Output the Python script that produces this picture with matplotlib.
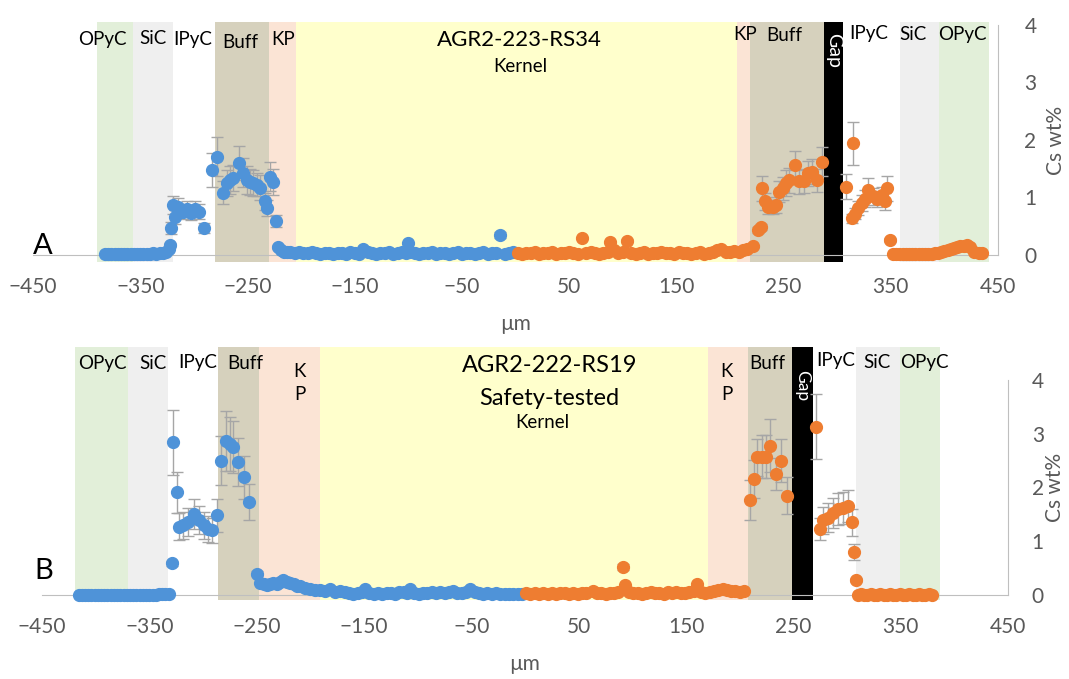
import matplotlib
matplotlib.use("Agg")
import matplotlib.pyplot as plt

plt.rcParams['font.family'] = ['Lato', 'DejaVu Sans']

# ---------------- panel A : AGR2-223-RS34 ----------------
a_layers = ["OPyC", "SiC", "IPyC", "Buff", "KP", "Kernel", "KP", "Buff", "Gap", "IPyC", "SiC", "OPyC"]
a_edges = [-390, -357, -319, -280, -230, -205, 207, 219, 288, 305, 359, 395, 442]

a_label_text = ["OPyC", "SiC", "IPyC", "Buff", "KP", "KP", "Buff", "IPyC", "SiC", "OPyC"]
a_label_x = [-385, -338, -301, -257, -217, 214, 251, 329, 371, 417]
a_label_y = [3.74, 3.76, 3.74, 3.7, 3.74, 3.84, 3.82, 3.86, 3.84, 3.84]

# blue side (no visible error)
a_blue_base_x = [-383, -380, -377, -374, -371, -368, -365, -362, -359, -356, -353, -350, -347, -344,
                 -341, -338, -335, -332, -329, -326, -323,
                 -219, -216, -213, -210, -206, -202, -198, -194, -190, -186, -182, -178, -174, -170,
                 -166, -162, -158, -154, -150, -146, -142, -138, -134, -130, -126, -122, -118, -114,
                 -110, -106, -102, -100, -98, -94, -90, -86, -82, -78, -74, -70, -66, -62, -58, -54,
                 -50, -46, -42, -38, -34, -30, -26, -22, -18, -10, -6, -2]
a_blue_base_y = [0.02, 0.01, 0.02, 0.02, 0.01, 0.02, 0.01, 0.02, 0.02, 0.01, 0.02, 0.02, 0.01, 0.02,
                 0.02, 0.03, 0.02, 0.03, 0.04, 0.06, 0.1,
                 0.08, 0.06, 0.05, 0.06, 0.04, 0.05, 0.03, 0.04, 0.06, 0.03, 0.02, 0.04, 0.03, 0.02,
                 0.04, 0.03, 0.02, 0.05, 0.04, 0.02, 0.1, 0.05, 0.03, 0.02, 0.04, 0.03, 0.05, 0.02,
                 0.03, 0.06, 0.04, 0.2, 0.05, 0.03, 0.02, 0.04, 0.03, 0.06, 0.02, 0.03, 0.04, 0.02,
                 0.03, 0.05, 0.02, 0.03, 0.04, 0.02, 0.03, 0.05, 0.02, 0.03, 0.04, 0.02, 0.03, 0.05]
# blue side with error bars
a_blue_x = [-322.2, -321.6, -319.2, -317.6, -314.5, -310.4, -306.7, -302.9, -298.9, -294.9, -290.5,
            -283.4, -278.7, -273.1, -269.4, -266.3, -263.2, -257.6, -253.9, -250.8, -247.6, -244.5,
            -241.4, -238.3, -233.6, -232.1, -229.0, -226.0, -223.4, -221.2, -14.5]
a_blue_y = [0.17, 0.47, 0.87, 0.66, 0.84, 0.75, 0.8, 0.73, 0.8, 0.75, 0.47,
            1.48, 1.71, 1.08, 1.25, 1.3, 1.34, 1.6, 1.43, 1.3, 1.27, 1.25,
            1.22, 1.17, 0.93, 0.81, 1.36, 1.27, 0.59, 0.14, 0.35]
a_blue_err = [0.03, 0.1, 0.15, 0.12, 0.15, 0.13, 0.14, 0.12, 0.14, 0.13, 0.08,
              0.3, 0.34, 0.2, 0.22, 0.24, 0.22, 0.3, 0.25, 0.24, 0.22, 0.23,
              0.2, 0.22, 0.15, 0.14, 0.25, 0.22, 0.1, 0.03, 0.05]

# orange side (no visible error)
a_orng_base_x = [2, 6, 10, 14, 18, 22, 26, 30, 34, 38, 42, 46, 50, 54, 58, 66, 70, 74, 78, 82, 86, 92,
                 96, 100, 108, 112, 116, 120, 124, 128, 132, 136, 140, 144, 148, 152, 156, 160, 164,
                 168, 172, 176, 180, 184, 188, 192, 196, 200, 204, 208, 212, 216,
                 352, 355, 358, 361, 364, 367, 370, 373, 376, 379, 382, 385, 388, 391, 394, 397, 400,
                 403, 406, 409, 412, 415, 418, 421, 424, 428, 432, 435]
a_orng_base_y = [0.03, 0.02, 0.04, 0.03, 0.05, 0.02, 0.04, 0.03, 0.06, 0.02, 0.04, 0.03, 0.05, 0.03,
                 0.02, 0.04, 0.06, 0.03, 0.02, 0.04, 0.05, 0.08, 0.03, 0.05, 0.04, 0.02, 0.03, 0.05,
                 0.02, 0.04, 0.03, 0.06, 0.03, 0.04, 0.02, 0.05, 0.03, 0.04, 0.02, 0.03, 0.05, 0.02,
                 0.04, 0.05, 0.08, 0.1, 0.06, 0.05, 0.07, 0.06, 0.08, 0.1,
                 0.01, 0.01, 0.02, 0.01, 0.01, 0.02, 0.01, 0.01, 0.02, 0.01, 0.02, 0.01, 0.02, 0.03,
                 0.04, 0.06, 0.07, 0.08, 0.1, 0.12, 0.13, 0.15, 0.16, 0.17, 0.14, 0.06, 0.04, 0.03]
# orange side with error bars
a_orng_x = [62, 88, 104, 221.7, 226.4, 228.6, 229.5, 232.6, 235.7, 239.8, 242.9, 246.0, 249.1, 252.2,
            255.3, 260.6, 264.6, 269.0, 273.0, 276.2, 280.8, 285.5,
            308.2, 315.0, 313.5, 316.6, 319.7, 322.8, 325.9, 329.0, 333.0, 336.8, 341.4, 344.5,
            346.7, 349.2]
a_orng_y = [0.3, 0.22, 0.25, 0.15, 0.44, 0.49, 1.16, 0.93, 0.84, 0.84, 0.87, 1.1, 1.16, 1.25,
            1.3, 1.56, 1.28, 1.28, 1.42, 1.45, 1.3, 1.62,
            1.19, 1.94, 0.64, 0.72, 0.81, 0.9, 0.98, 1.13, 1.02, 0.98, 1.04, 0.93,
            1.16, 0.26]
a_orng_err = [0.02, 0.02, 0.02, 0.03, 0.05, 0.05, 0.22, 0.15, 0.12, 0.12, 0.14, 0.18, 0.2, 0.22,
              0.22, 0.25, 0.22, 0.2, 0.22, 0.22, 0.2, 0.25,
              0.22, 0.37, 0.08, 0.1, 0.12, 0.14, 0.15, 0.2, 0.15, 0.14, 0.15, 0.15,
              0.22, 0.04]

# ---------------- panel B : AGR2-222-RS19 ----------------
b_layers = ["OPyC", "SiC", "IPyC", "Buff", "KP", "Kernel", "KP", "Buff", "Gap", "IPyC", "SiC", "OPyC"]
b_edges = [-419, -370, -333, -286, -248, -191, 170, 208, 249, 268, 308, 349, 387]

b_label_text = ["OPyC", "SiC", "IPyC", "Buff", "K\nP", "K\nP", "Buff", "IPyC", "SiC", "OPyC"]
b_label_x = [-394, -347, -305, -261, -210, 188, 226, 289, 328, 372]
b_label_y = [4.3, 4.3, 4.33, 4.3, 3.95, 3.95, 4.3, 4.36, 4.33, 4.33]

b_blue_base_x = [-416, -413, -410, -407, -404, -401, -398, -395, -392, -389, -386, -383, -380, -377,
                 -374, -371, -368, -365, -362, -359, -356, -353, -350, -347, -344, -341, -338, -335,
                 -332,
                 -246.9, -243.5, -240.6, -237.5, -234.4, -231, -228, -225.1, -222, -218.9, -215,
                 -212, -209.6, -205, -200.3, -196, -191, -186, -181.6, -177, -172.3, -168, -164,
                 -160, -156, -152, -149, -145, -141, -137, -133, -129, -125, -121, -117, -113, -110,
                 -107, -103, -99, -95, -91, -87, -83, -79, -75, -71, -67, -63, -59, -55, -51, -47,
                 -43, -39, -35, -31, -27, -23, -19, -15, -11, -7, -3]
b_blue_base_y = [0.0, 0.0, 0.0, 0.0, 0.0, 0.0, 0.0, 0.0, 0.0, 0.0, 0.0, 0.0, 0.0, 0.0,
                 0.0, 0.0, 0.0, 0.0, 0.0, 0.0, 0.0, 0.0, 0.0, 0.0, 0.0, 0.01, 0.01, 0.02,
                 0.02,
                 0.22, 0.2, 0.19, 0.2, 0.22, 0.2, 0.24, 0.28, 0.25, 0.22, 0.2,
                 0.17, 0.16, 0.13, 0.12, 0.1, 0.1, 0.08, 0.12, 0.06, 0.08, 0.05, 0.03,
                 0.02, 0.03, 0.05, 0.12, 0.04, 0.02, 0.03, 0.02, 0.04, 0.03, 0.02, 0.05, 0.06, 0.04,
                 0.12, 0.03, 0.02, 0.04, 0.03, 0.05, 0.04, 0.06, 0.03, 0.05, 0.07, 0.04, 0.03, 0.05,
                 0.12, 0.05, 0.03, 0.02, 0.03, 0.02, 0.03, 0.02, 0.01, 0.02, 0.01, 0.02, 0.01]
b_blue_x = [-329.2, -328.2, -324.5, -322.3, -318.3, -313.6, -308.3, -303.7, -299.0, -295.0, -291.9,
            -287.2, -283.5, -278.8, -274.8, -271.7, -267.7, -261.8, -256.8, -250.0]
b_blue_y = [0.59, 2.84, 1.91, 1.27, 1.3, 1.36, 1.51, 1.39, 1.3, 1.23, 1.2,
            1.48, 2.5, 2.87, 2.81, 2.75, 2.47, 2.19, 1.73, 0.4]
b_blue_err = [0.05, 0.6, 0.38, 0.25, 0.25, 0.26, 0.28, 0.26, 0.25, 0.24, 0.24,
              0.3, 0.46, 0.56, 0.5, 0.48, 0.45, 0.4, 0.34, 0.04]

b_orng_base_x = [1, 5, 9, 13, 17, 21, 25, 29, 33, 37, 41, 45, 49, 53, 57, 63, 67, 71, 75, 79, 83, 87,
                 93, 97, 101, 105, 109, 113, 117, 121, 125, 129, 133, 137, 141, 145, 149, 153, 157,
                 160, 164, 168, 172, 176, 180, 184, 188, 192, 196, 200, 204,
                 310, 313, 316, 319, 322, 325, 328, 331, 334, 337, 340, 343, 346, 349, 352, 355, 358,
                 361, 364, 367, 370, 373, 376, 379]
b_orng_base_y = [0.03, 0.02, 0.03, 0.02, 0.04, 0.02, 0.03, 0.02, 0.03, 0.04, 0.02, 0.03, 0.02, 0.04,
                 0.03, 0.08, 0.04, 0.03, 0.02, 0.04, 0.03, 0.05, 0.19, 0.05, 0.03, 0.04, 0.02, 0.03,
                 0.05, 0.03, 0.04, 0.02, 0.05, 0.03, 0.06, 0.04, 0.03, 0.05, 0.08,
                 0.2, 0.06, 0.04, 0.05, 0.08, 0.1, 0.12, 0.09, 0.07, 0.08, 0.06, 0.07,
                 0.0, 0.01, 0.0, 0.0, 0.01, 0.0, 0.0, 0.01, 0.0, 0.0, 0.01, 0.0, 0.0, 0.01, 0.0,
                 0.0, 0.01, 0.0, 0.0, 0.01, 0.0, 0.0, 0.01, 0.0]
b_orng_x = [91.3, 209.6, 213.4, 216.5, 220.5, 224.5, 228.3, 233.9, 238.5, 243.8,
            271.1, 274.9, 278.0, 282.6, 287.3, 291.9, 296.6, 301.3, 304.4, 306.9, 308.4]
b_orng_y = [0.52, 1.76, 2.16, 2.56, 2.57, 2.57, 2.78, 2.25, 2.5, 1.85,
            3.13, 1.23, 1.39, 1.44, 1.53, 1.6, 1.62, 1.65, 1.35, 0.8, 0.28]
b_orng_err = [0.05, 0.37, 0.35, 0.35, 0.4, 0.4, 0.5, 0.3, 0.4, 0.35,
              0.6, 0.2, 0.25, 0.27, 0.28, 0.3, 0.3, 0.3, 0.25, 0.15, 0.04]

layer_colors = {"OPyC": "#e2efd9", "SiC": "#efefef", "IPyC": "#ffffff", "Buff": "#d6d1bd",
                "KP": "#fbe4d5", "Kernel": "#ffffcc", "Gap": "#000000"}
blue = "#4f93d8"
orange = "#ee7d31"
grey = "#595959"


def draw_panel(ax, layers, edges, top, bottom, lab_text, lab_x, lab_y, gap_y, gap_size, ypad, lpad,
               bx0, by0, bx, by, be, ox0, oy0, ox, oy, oe):
    for i, name in enumerate(layers):
        if name == "IPyC":
            continue
        ax.axvspan(edges[i], edges[i + 1], ymin=bottom, ymax=top, color=layer_colors[name],
                   lw=0, zorder=0, clip_on=False)
    for t, x, y in zip(lab_text, lab_x, lab_y):
        ax.text(x, y, t, ha="center", va="center", fontsize=13.5, color="black",
                linespacing=1.45)
    gi = layers.index("Gap")
    ax.text((edges[gi] + edges[gi + 1]) / 2, gap_y, "Gap", rotation=-90,
            color="white", ha="center", va="center", fontsize=gap_size)

    ax.errorbar(bx, by, yerr=be, fmt="none", ecolor="#a6a6a6", elinewidth=1, capsize=4, zorder=2)
    ax.errorbar(ox, oy, yerr=oe, fmt="none", ecolor="#a6a6a6", elinewidth=1, capsize=4, zorder=2)
    ax.plot(bx0, by0, "o", color=blue, ms=8.5, zorder=3, clip_on=False)
    ax.plot(bx, by, "o", color=blue, ms=8.5, zorder=3, clip_on=False)
    ax.plot(ox0, oy0, "o", color=orange, ms=8.5, zorder=3, clip_on=False)
    ax.plot(ox, oy, "o", color=orange, ms=8.5, zorder=3, clip_on=False)

    ax.set_xlim(-450, 450)
    ax.set_ylim(0, 4)
    ax.set_xticks(range(-450, 451, 100))
    ax.set_yticks(range(0, 5))
    ax.yaxis.tick_right()
    ax.yaxis.set_label_position("right")
    ax.tick_params(axis="both", length=0, labelsize=15, labelcolor=grey)
    ax.tick_params(axis="x", pad=16)
    ax.tick_params(axis="y", pad=ypad)
    for s in ["left", "top"]:
        ax.spines[s].set_visible(False)
    for s in ["bottom", "right"]:
        ax.spines[s].set_color("#bfbfbf")
        ax.spines[s].set_zorder(1)
    ax.set_xlabel("µm", fontsize=15, color=grey, labelpad=12)
    ax.set_ylabel("Cs wt%", fontsize=15, color=grey, labelpad=lpad)
    ax.patch.set_alpha(0)


fig = plt.figure(figsize=(10.69, 6.79), dpi=100)
ax_a = fig.add_axes([0.0309, 0.6245, 0.9027, 0.3387])
ax_b = fig.add_axes([0.0393, 0.1237, 0.9037, 0.3167])

draw_panel(ax_a, a_layers, a_edges, 1.013, -0.03, a_label_text, a_label_x, a_label_y, 3.55, 14, 19, 7,
           a_blue_base_x, a_blue_base_y, a_blue_x, a_blue_y, a_blue_err,
           a_orng_base_x, a_orng_base_y, a_orng_x, a_orng_y, a_orng_err)
draw_panel(ax_b, b_layers, b_edges, 1.153, -0.023, b_label_text, b_label_x, b_label_y, 3.9, 12.5, 17, 1,
           b_blue_base_x, b_blue_base_y, b_blue_x, b_blue_y, b_blue_err,
           b_orng_base_x, b_orng_base_y, b_orng_x, b_orng_y, b_orng_err)

ax_a.text(4, 3.74, "AGR2-223-RS34", ha="center", va="center", fontsize=16)
ax_a.text(4, 3.27, "Kernel", ha="center", va="center", fontsize=13.5)
ax_a.text(-441, 0.15, "A", ha="center", va="center", fontsize=21)

ax_b.text(23, 4.26, "AGR2-222-RS19", ha="center", va="center", fontsize=17)
ax_b.text(23, 3.65, "Safety-tested", ha="center", va="center", fontsize=17)
ax_b.text(16, 3.2, "Kernel", ha="center", va="center", fontsize=13.5)
ax_b.text(-448, 0.45, "B", ha="center", va="center", fontsize=21)

fig.savefig("out.png", dpi=100)
